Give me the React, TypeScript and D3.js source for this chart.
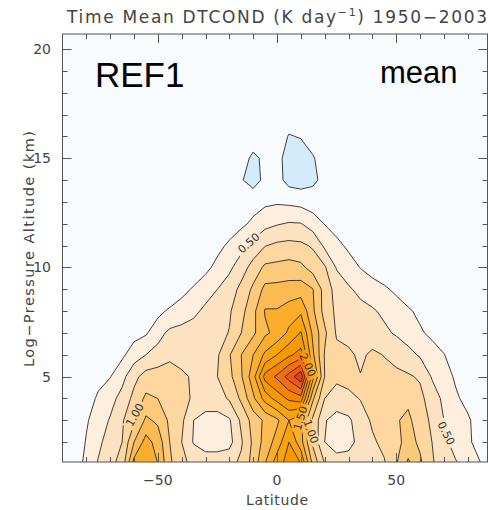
import React, { useEffect, useRef } from 'react';
import * as d3 from 'd3';

// grid columns: latitude (deg)
const lats = [-90, -85, -80, -75, -70, -65, -60, -55, -50, -45, -40, -35, -30, -25, -20, -15, -10, -5, 0,
  5, 10, 15, 20, 25, 30, 35, 40, 45, 50, 55, 60, 65, 70, 75, 80, 85, 90];

// grid rows: log-pressure altitude (km)
const alts = [1, 2, 3, 4, 5, 6, 7, 8, 9, 10, 11, 12, 13, 14, 15, 16, 17];

// time mean DTCOND (K/day), one row per altitude, bottom row first
const dtcond = [
  [0, 0.05, 0.35, 0.52, 0.68, 0.85, 1.6, 1.75, 1.5, 1.05, 0.8, 0.7, 0.65, 0.65, 0.68, 0.8, 1.1, 1.5, 1.9, 2.1, 2.0, 1.2, 0.75, 0.62, 0.62, 0.65, 0.7, 0.73, 0.98, 1.3, 1.05, 0.78, 0.62, 0.52, 0.4, 0.27, 0],
  [0, 0.05, 0.27, 0.45, 0.6, 0.75, 1.25, 1.6, 1.4, 1.0, 0.75, 0.48, 0.38, 0.38, 0.42, 0.72, 1.05, 1.35, 1.6, 2.0, 1.6, 0.95, 0.5, 0.38, 0.42, 0.58, 0.72, 0.8, 0.92, 1.1, 0.95, 0.75, 0.55, 0.42, 0.3, 0.15, 0],
  [0, 0, 0.22, 0.38, 0.52, 0.72, 0.95, 1.3, 1.2, 0.95, 0.8, 0.5, 0.42, 0.4, 0.47, 0.8, 1.1, 1.3, 1.45, 1.75, 1.55, 0.95, 0.52, 0.4, 0.45, 0.65, 0.78, 0.9, 0.98, 1.05, 0.88, 0.7, 0.5, 0.38, 0.3, 0.1, 0],
  [0, 0, 0.1, 0.3, 0.42, 0.58, 0.82, 1.05, 1.0, 0.9, 0.82, 0.72, 0.62, 0.65, 0.78, 1.05, 1.45, 1.85, 2.1, 2.3, 2.4, 1.3, 0.75, 0.65, 0.7, 0.76, 0.82, 0.9, 0.92, 0.95, 0.82, 0.62, 0.45, 0.3, 0.15, 0, 0],
  [0, 0, 0, 0.15, 0.24, 0.42, 0.68, 0.85, 0.88, 0.9, 0.82, 0.7, 0.68, 0.75, 0.93, 1.22, 1.65, 2.35, 2.55, 2.85, 3.2, 1.85, 1.0, 0.8, 0.82, 0.76, 0.82, 0.83, 0.8, 0.78, 0.72, 0.48, 0.4, 0.2, 0.1, 0, 0],
  [0, 0, 0, 0, 0.15, 0.2, 0.38, 0.5, 0.58, 0.68, 0.6, 0.6, 0.62, 0.72, 0.98, 1.25, 1.5, 1.8, 2.0, 2.2, 2.35, 1.55, 0.98, 0.82, 0.8, 0.7, 0.8, 0.74, 0.68, 0.58, 0.47, 0.35, 0.26, 0.12, 0, 0, 0],
  [0, 0, 0, 0, 0, 0.1, 0.16, 0.22, 0.42, 0.55, 0.58, 0.6, 0.62, 0.68, 0.76, 1.0, 1.2, 1.45, 1.58, 1.8, 2.02, 1.45, 1.05, 0.72, 0.66, 0.62, 0.6, 0.55, 0.47, 0.38, 0.28, 0.2, 0.1, 0, 0, 0, 0],
  [0, 0, 0, 0, 0, 0, 0, 0.08, 0.17, 0.3, 0.37, 0.45, 0.55, 0.62, 0.72, 0.92, 1.18, 1.52, 1.52, 1.62, 1.7, 1.3, 0.9, 0.7, 0.62, 0.57, 0.53, 0.45, 0.37, 0.28, 0.2, 0.1, 0, 0, 0, 0, 0],
  [0, 0, 0, 0, 0, 0, 0, 0, 0, 0, 0.17, 0.28, 0.4, 0.5, 0.62, 0.82, 1.05, 1.32, 1.33, 1.35, 1.38, 1.26, 0.9, 0.65, 0.53, 0.44, 0.36, 0.29, 0.2, 0.12, 0.05, 0, 0, 0, 0, 0, 0],
  [0, 0, 0, 0, 0, 0, 0, 0, 0, 0, 0, 0.08, 0.18, 0.33, 0.45, 0.63, 0.85, 1.05, 1.07, 1.1, 1.06, 0.9, 0.78, 0.48, 0.37, 0.24, 0.15, 0.08, 0, 0, 0, 0, 0, 0, 0, 0, 0],
  [0, 0, 0, 0, 0, 0, 0, 0, 0, 0, 0, 0, 0.05, 0.17, 0.3, 0.42, 0.58, 0.74, 0.8, 0.82, 0.8, 0.72, 0.45, 0.32, 0.2, 0.1, 0.05, 0, 0, 0, 0, 0, 0, 0, 0, 0, 0],
  [0, 0, 0, 0, 0, 0, 0, 0, 0, 0, 0, 0, 0, 0, 0.1, 0.2, 0.3, 0.42, 0.48, 0.52, 0.51, 0.38, 0.24, 0.14, 0.05, 0, 0, 0, 0, 0, 0, 0, 0, 0, 0, 0, 0],
  [0, 0, 0, 0, 0, 0, 0, 0, 0, 0, 0, 0, 0, 0, 0, 0.05, 0.15, 0.2, 0.22, 0.2, 0.17, 0.12, 0.05, 0, 0, 0, 0, 0, 0, 0, 0, 0, 0, 0, 0, 0, 0],
  [0, 0, 0, 0, 0, 0, 0, 0, 0, 0, 0, 0, 0, 0, 0, -0.2, -0.5, -0.1, -0.05, -0.45, -0.55, -0.4, -0.05, 0, 0, 0, 0, 0, 0, 0, 0, 0, 0, 0, 0, 0, 0],
  [0, 0, 0, 0, 0, 0, 0, 0, 0, 0, 0, 0, 0, 0, 0, -0.05, -0.35, -0.15, -0.1, -0.45, -0.5, -0.3, 0, 0, 0, 0, 0, 0, 0, 0, 0, 0, 0, 0, 0, 0, 0],
  [0, 0, 0, 0, 0, 0, 0, 0, 0, 0, 0, 0, 0, 0, 0, 0, 0, 0, 0, -0.28, -0.22, 0, 0, 0, 0, 0, 0, 0, 0, 0, 0, 0, 0, 0, 0, 0, 0],
  [0, 0, 0, 0, 0, 0, 0, 0, 0, 0, 0, 0, 0, 0, 0, 0, 0, 0, 0, 0, 0, 0, 0, 0, 0, 0, 0, 0, 0, 0, 0, 0, 0, 0, 0, 0, 0],
];

// contour levels (K/day) and the fill above each one
const levels = [0.25, 0.5, 0.75, 1.0, 1.25, 1.5, 1.75, 2.0, 2.25, 2.5, 2.75, 3.0];
const fills = ['#feeedd', '#fde2c2', '#fdd6a0', '#fdc97a', '#fcbb52', '#fbae2c',
  '#faa40c', '#f99900', '#f78500', '#f46d0e', '#f05614', '#e63e16'];
const negLevel = -0.25;
const negFill = '#d4ebfa';

const latTicks = [-50, 0, 50];
const altTicks = [5, 10, 15, 20];

// labelled contours: text, where it sits (lat, alt) and its angle
const contourLabels = [
  { text: '0.50', lat: -11.8, alt: 11.1, angle: -41 },
  { text: '1.00', lat: -59.5, alt: 3.24, angle: -60 },
  { text: '2.00', lat: 12.7, alt: 5.53, angle: 66 },
  { text: '1.50', lat: 9.9, alt: 3.09, angle: -73 },
  { text: '1.00', lat: 14.1, alt: 2.48, angle: 70 },
  { text: '0.50', lat: 70.9, alt: 2.4, angle: 63 },
];

const FONT = '"DejaVu Sans", sans-serif';

const App = () => {
  const svgRef = useRef<SVGSVGElement>(null);

  useEffect(() => {
    const svg = d3.select(svgRef.current);
    svg.selectAll('*').remove();
    const W = 488, H = 510;
    const left = 62.5, right = 487.5, top = 34, bottom = 462;

    const x = d3.scaleLinear().domain([-90, 88.3]).range([left, right]);
    const y = d3.scaleLinear().domain([1.09, 20.69]).range([bottom, top]);

    const nx = lats.length, ny = alts.length;
    const dLat = lats[1] - lats[0], dAlt = alts[1] - alts[0];
    const values = dtcond.flat();

    // grid coords -> lat/alt -> pixels
    const proj = d3.geoTransform({
      point: function (px: number, py: number) {
        this.stream.point(x(lats[0] + (px - 0.5) * dLat), y(alts[0] + (py - 0.5) * dAlt));
      },
    });
    const path = d3.geoPath(proj);

    const posBands = d3.contours().size([nx, ny]).thresholds(levels)(values);
    const negBands = d3.contours().size([nx, ny]).thresholds([-negLevel])(values.map(v => -v));

    const defs = svg.append('defs');
    defs.append('clipPath').attr('id', 'plotclip')
      .append('rect').attr('x', left).attr('y', top).attr('width', right - left).attr('height', bottom - top);

    const mask = defs.append('mask').attr('id', 'lblmask')
      .attr('maskUnits', 'userSpaceOnUse').attr('x', 0).attr('y', 0).attr('width', W).attr('height', H);
    mask.append('rect').attr('width', W).attr('height', H).attr('fill', '#fff');
    contourLabels.forEach(l => {
      mask.append('rect')
        .attr('x', -15).attr('y', -6).attr('width', 30).attr('height', 12)
        .attr('fill', '#000')
        .attr('transform', `translate(${x(l.lat)},${y(l.alt)}) rotate(${l.angle})`);
    });

    svg.append('rect').attr('x', left).attr('y', top).attr('width', right - left).attr('height', bottom - top)
      .attr('fill', '#f7fbfe');

    const plot = svg.append('g').attr('clip-path', 'url(#plotclip)');
    plot.selectAll('path.band')
      .data(posBands)
      .enter().append('path')
      .attr('class', 'band')
      .attr('d', d => path(d as any))
      .attr('fill', (d, i) => fills[i]);
    plot.selectAll('path.neg')
      .data(negBands)
      .enter().append('path')
      .attr('class', 'neg')
      .attr('d', d => path(d as any))
      .attr('fill', negFill);

    const lines = plot.append('g').attr('mask', 'url(#lblmask)');
    lines.selectAll('path')
      .data([...posBands, ...negBands])
      .enter().append('path')
      .attr('d', d => path(d as any))
      .attr('fill', 'none')
      .attr('stroke', '#2a2a2a')
      .attr('stroke-width', 0.9)
      .attr('stroke-linejoin', 'round');

    svg.append('g').selectAll('text')
      .data(contourLabels)
      .enter().append('text')
      .attr('transform', d => `translate(${x(d.lat)},${y(d.alt)}) rotate(${d.angle})`)
      .attr('text-anchor', 'middle')
      .attr('dominant-baseline', 'central')
      .attr('font-family', FONT)
      .attr('font-size', 11)
      .attr('fill', '#333')
      .text(d => d.text);

    // frame and ticks
    const axisColor = '#555';
    svg.append('rect').attr('x', left).attr('y', top).attr('width', right - left).attr('height', bottom - top)
      .attr('fill', 'none').attr('stroke', axisColor).attr('stroke-width', 1);

    const tk = svg.append('g').attr('stroke', axisColor).attr('stroke-width', 1);
    d3.range(-80, 90, 10).forEach(lat => {
      const len = latTicks.includes(lat) ? 9 : 5;
      const px = Math.round(x(lat)) + 0.5;
      tk.append('line').attr('x1', px).attr('x2', px).attr('y1', bottom).attr('y2', bottom - len);
      tk.append('line').attr('x1', px).attr('x2', px).attr('y1', top).attr('y2', top + len);
    });
    d3.range(2, 21, 1).forEach(alt => {
      const len = altTicks.includes(alt) ? 9 : 5;
      const py = Math.round(y(alt)) + 0.5;
      tk.append('line').attr('x1', left).attr('x2', left + len).attr('y1', py).attr('y2', py);
      tk.append('line').attr('x1', right).attr('x2', right - len).attr('y1', py).attr('y2', py);
    });

    const txt = svg.append('g').attr('font-family', FONT).attr('fill', '#444');
    latTicks.forEach(lat => {
      txt.append('text').attr('x', x(lat)).attr('y', 485).attr('text-anchor', 'middle')
        .attr('font-size', 14).text(lat < 0 ? `\u2212${Math.abs(lat)}` : `${lat}`);
    });
    altTicks.forEach(alt => {
      txt.append('text').attr('x', 51).attr('y', y(alt) + 5).attr('text-anchor', 'end')
        .attr('font-size', 14).text(`${alt}`);
    });
    txt.append('text').attr('x', x(0)).attr('y', 505).attr('text-anchor', 'middle')
      .attr('font-size', 14).attr('textLength', 62).attr('lengthAdjust', 'spacing').text('Latitude');
    txt.append('text').attr('transform', `translate(34,${(top + bottom) / 2 + 1}) rotate(-90)`)
      .attr('text-anchor', 'middle').attr('font-size', 14.5)
      .attr('textLength', 236).attr('lengthAdjust', 'spacing').text('Log\u2212Pressure Altitude (km)');

    const title = txt.append('text').attr('x', 67).attr('y', 23).attr('font-size', 17)
      .attr('textLength', 420).attr('lengthAdjust', 'spacing');
    title.append('tspan').text('Time Mean DTCOND (K day');
    title.append('tspan').attr('font-size', 11).attr('dy', -7).text('\u22121');
    title.append('tspan').attr('dy', 7).text(') 1950\u22122003');

    svg.append('text').attr('x', 95).attr('y', 87).attr('font-family', 'Liberation Sans, Arial, sans-serif')
      .attr('font-size', 35).attr('fill', '#000').text('REF1');
    svg.append('text').attr('x', 380).attr('y', 83).attr('font-family', 'Liberation Sans, Arial, sans-serif')
      .attr('font-size', 31).attr('fill', '#000').text('mean');
  }, []);

  return (
    <svg ref={svgRef} width={488} height={510}
      style={{ position: 'absolute', left: 0, top: 0, background: 'white' }} />
  );
};

export default App;
